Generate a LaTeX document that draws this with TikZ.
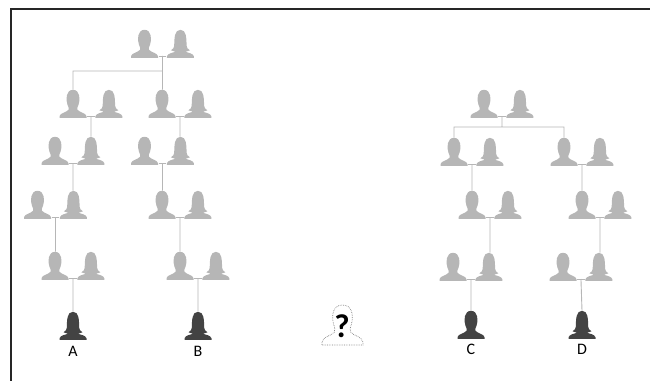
\documentclass[tikz,border=0pt]{standalone}
\usepackage{fontspec}
\setmainfont{Carlito}
\usepackage{xcolor}
\usetikzlibrary{positioning, calc}

\definecolor{kin}{HTML}{B6B6B6}
\definecolor{proband}{HTML}{434343}
\definecolor{frameblack}{HTML}{262626}

\tikzset{
  person/.style={rectangle, inner sep=0pt, minimum width=28pt, minimum height=28pt, anchor=south},
  male/.style={person, path picture={
    \fill[#1] (-13.5,-14) -- (13.5,-14) -- (13.5,-12.5)
      .. controls (13,-9) and (7,-9) .. (4.5,-6)
      .. controls (4,-4.5) and (4.5,-3) .. (5.5,-1)
      .. controls (7.5,4) and (7,14) .. (0,14)
      .. controls (-7,14) and (-7.5,4) .. (-5.5,-1)
      .. controls (-4.5,-3) and (-4,-4.5) .. (-4.5,-6)
      .. controls (-7,-9) and (-13,-9) .. (-13.5,-12.5)
      -- cycle;}},
  male/.default=kin,
  female/.style={person, path picture={
    \fill[#1] (-13.5,-14) -- (13.5,-14) -- (13.5,-12.5)
      .. controls (12.5,-9.5) and (8,-9) .. (5,-8)
      -- (9.5,-6.5)
      .. controls (7,-5) and (6.5,-4) .. (6.2,-2)
      .. controls (6,6) and (6,14) .. (0,14)
      .. controls (-6,14) and (-6,6) .. (-6.2,-2)
      .. controls (-6.5,-4) and (-7,-5) .. (-9.5,-6.5)
      -- (-5,-8)
      .. controls (-8,-9) and (-12.5,-9.5) .. (-13.5,-12.5)
      -- cycle;}},
  female/.default=kin,
  link/.style={draw=kin, line width=0.9pt},
  kinlabel/.style={font=\fontsize{16}{16}\selectfont, text=black, inner sep=0pt},
  unknown/.style={rectangle, inner sep=0pt, minimum width=44pt, minimum height=42pt, anchor=south}
}

\begin{document}
\begin{tikzpicture}[x=1pt, y=1pt]
    \useasboundingbox (0,0) rectangle (650,381);

    % frame
    \coordinate (framecorner) at (11,372);
    \coordinate (frameright) at (650,372);
    \coordinate (framebottom) at (11,0);
    \draw[frameblack, line width=2.2pt] (frameright) -- (framecorner) -- (framebottom);

    % left family
    \node[male] (m1) at (144.5,323) {};
    \node[female] (f1) [right=7.5pt of m1] {};
    \node[male] (m2) at (73,263) {};
    \node[female] (f2) [right=7.5pt of m2] {};
    \node[male] (m3) at (162,263) {};
    \node[female] (f3) [right=7.5pt of m3] {};
    \node[male] (m4) at (55,216) {};
    \node[female] (f4) [right=7.5pt of m4] {};
    \node[male] (m5) at (144.5,216) {};
    \node[female] (f5) [right=7.5pt of m5] {};
    \node[male] (m6) at (37.5,162) {};
    \node[female] (f6) [right=7.5pt of m6] {};
    \node[male] (m7) at (162,162) {};
    \node[female] (f7) [right=7.5pt of m7] {};
    \node[male] (m8) at (55,101) {};
    \node[female] (f8) [right=7.5pt of m8] {};
    \node[male] (m9) at (180,101) {};
    \node[female] (f9) [right=7.5pt of m9] {};
    \node[female=proband] (a) at (73,41) {};
    \node[female=proband] (b) at (198,41) {};
    \node[kinlabel] (labela) [below=6pt of a] {A};
    \node[kinlabel] (labelb) [below=6pt of b] {B};

    % right family
    \node[male] (m10) at (484,263) {};
    \node[female] (f10) [right=7.5pt of m10] {};
    \node[male] (m11) at (454,215) {};
    \node[female] (f11) [right=7.5pt of m11] {};
    \node[male] (m12) at (564,215) {};
    \node[female] (f12) [right=7.5pt of m12] {};
    \node[male] (m13) at (472,162) {};
    \node[female] (f13) [right=7.5pt of m13] {};
    \node[male] (m14) at (582,162) {};
    \node[female] (f14) [right=7.5pt of m14] {};
    \node[male] (m15) at (453,100) {};
    \node[female] (f15) [right=7.5pt of m15] {};
    \node[male] (m16) at (563,100) {};
    \node[female] (f16) [right=7.5pt of m16] {};
    \node[male=proband] (c) at (471,42) {};
    \node[female=proband] (d) at (582,42) {};
    \node[kinlabel] (labelc) [below=5pt of c] {C};
    \node[kinlabel] (labeld) [below=5pt of d] {D};

    % unknown person
    \node[unknown] (q) at (342.5,36) {};
    \draw[gray, densely dotted, line width=0.7pt, shift={(q.south)}]
      (-20.5,0) -- (20.5,0) -- (20.5,3)
      .. controls (19,9) and (11,9) .. (8,13)
      .. controls (7,16) and (8,18) .. (9,21)
      .. controls (11,29) and (10,40) .. (0,40)
      .. controls (-10,40) and (-11,29) .. (-9,21)
      .. controls (-8,18) and (-7,16) .. (-8,13)
      .. controls (-11,9) and (-19,9) .. (-20.5,3)
      -- cycle;
    \node[inner sep=0pt, font=\fontsize{33}{33}\selectfont\bfseries] (mark) at ($(q.south)+(-0.5,19)$) {?};

    % couple junctions
    \foreach \n in {1,...,16}
      \coordinate (j\n) at ($(m\n.south east)!.5!(f\n.south west)+(0,2)$);
    \foreach \n in {1,...,16}
      \path[link] (j\n -| m\n.east) -- (j\n -| f\n.west);

    % sibship bars
    \coordinate (bar1) at (j1 |- 0,310);
    \coordinate (bar2) at (j10 |- 0,254);

    \path[link]
    (j1) -- (j1 |- m3.north)
    (bar1) -| (m2.north)
    (j2) -- (j2 |- f4.north)
    (j3) -- (j3 |- f5.north)
    (j4) -- (j4 |- f6.north)
    (j5) -- (j5 |- m7.north)
    (j6) -- (j6 |- m8.north)
    (j7) -- (j7 |- m9.north)
    (j8) -- (a.north)
    (j9) -- (b.north);

    \path[link]
    (j10) -- (bar2)
    (m11.north) |- (bar2) -| (m12.north)
    (j11) -- (j11 |- m13.north)
    (j12) -- (j12 |- m14.north)
    (j13) -- (j13 |- f15.north)
    (j14) -- (j14 |- f16.north)
    (j15) -- (c.north)
    (j16) -- (d.north);
  \end{tikzpicture}
\end{document}
